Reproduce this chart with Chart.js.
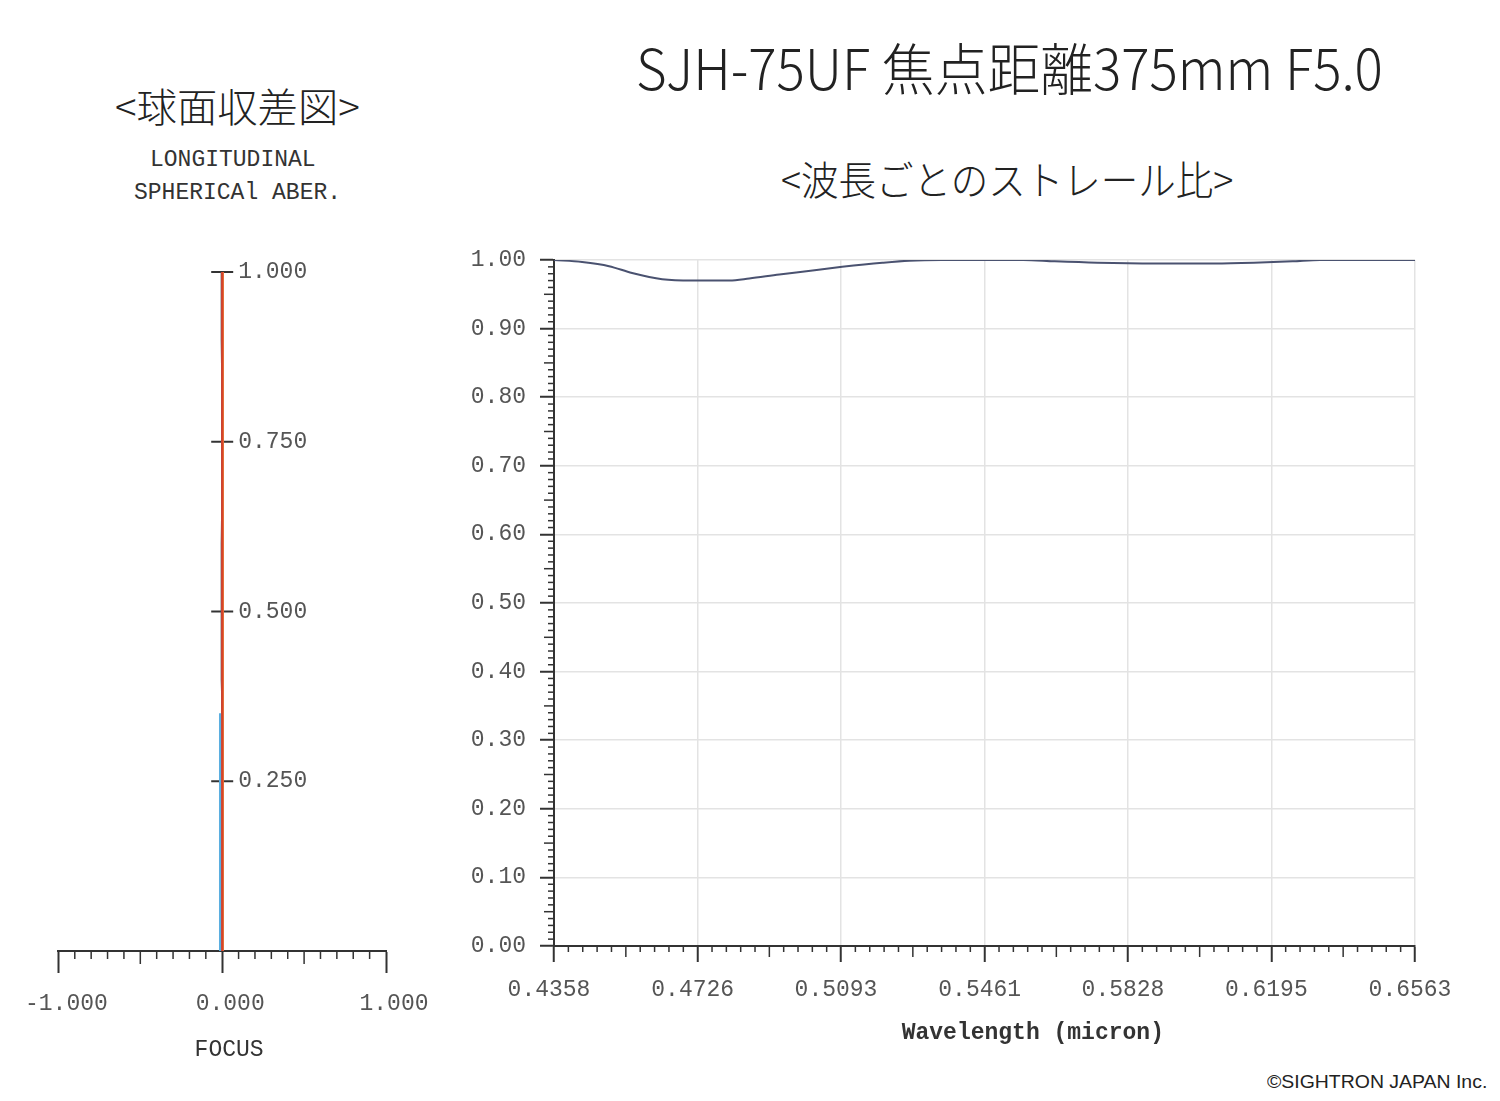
<!DOCTYPE html>
<html lang="ja">
<head>
<meta charset="utf-8">
<title>SJH-75UF 焦点距離375mm F5.0</title>
<script src="https://cdn.jsdelivr.net/npm/chart.js@4.4.1/dist/chart.umd.min.js"></script>
<style>
  html, body { margin: 0; padding: 0; background: #fff; }
  #page { position: relative; width: 1500px; height: 1101px; overflow: hidden; background: #fff; }
  .txt { position: absolute; white-space: nowrap; line-height: 1; color: #222; transform-origin: left top; }
  .jp { font-family: "Noto Sans CJK JP", sans-serif; font-weight: 300; }
  .mono { font-family: "Liberation Mono", "DejaVu Sans Mono", monospace; font-size: 23px; color: #333; }
  #title { left: 636px; top: 38px; font-size: 56px; }
  #subtitle { left: 781px; top: 158px; font-size: 40px; }
  #leftHead { left: 115px; top: 85px; font-size: 40px; }
  #long1 { left: 150px; top: 149px; }
  #long2 { left: 134px; top: 182px; }
  #copy { left: 1267px; top: 1072px; font-family: "Liberation Sans", Arial, sans-serif; font-size: 19px; color: #222; }
  #focusCanvas { position: absolute; left: 0; top: 240px; }
  #strehlCanvas { position: absolute; left: 440px; top: 230px; }
</style>
</head>
<body>
<div id="page">
  <div class="txt jp" id="title" data-w="747">SJH-75UF 焦点距離375mm F5.0</div>
  <div class="txt jp" id="leftHead" data-w="245">&lt;球面収差図&gt;</div>
  <div class="txt jp" id="subtitle" data-w="452">&lt;波長ごとのストレール比&gt;</div>
  <div class="txt mono" id="long1">LONGITUDINAL</div>
  <div class="txt mono" id="long2">SPHERICAl ABER.</div>
  <div class="txt" id="copy" data-w="220">©SIGHTRON JAPAN Inc.</div>
  <div id="focusCanvas"><canvas id="focus" width="440" height="840"></canvas></div>
  <div id="strehlCanvas"><canvas id="strehl" width="1060" height="830"></canvas></div>
</div>
<script>
// --- left plot: longitudinal spherical aberration (focus shift vs pupil height)
const pupilHeight = [0, 0.1, 0.2, 0.3, 0.35, 0.4, 0.5, 0.6, 0.7, 0.8, 0.9, 1.0];
const focusBlue   = [-0.012, -0.012, -0.012, -0.012, -0.012, null, null, null, null, null, null, null];
const focusGray   = [0.001, 0.001, 0.001, 0.001, 0.001, -0.005, -0.005, -0.005, 0.001, 0.001, -0.005, -0.005];
const focusYellow = [0.005, 0.005, 0.005, 0.005, 0.005, 0.006, 0.007, 0.007, 0.006, 0.005, 0.005, 0.005];
const focusOrange = [0.004, 0.004, 0.004, 0.004, 0.004, 0.004, 0.004, 0.004, 0.004, 0.004, 0.004, 0.004];
const focusRed    = [0.001, 0.001, 0.001, 0.001, 0.001, 0.001, 0.001, 0.001, 0.001, 0.001, 0.001, 0.001];
const focusTicks  = [-1, 0, 1];
const heightTicks = [0.25, 0.5, 0.75, 1.0];

// --- right plot: Strehl ratio per wavelength
const strehlWave  = [0.4358, 0.4430, 0.4499, 0.4558, 0.4635, 0.4712, 0.4807, 0.4858, 0.4935, 0.4994,
                     0.5096, 0.5199, 0.5268, 0.5350, 0.5560, 0.5640, 0.5750, 0.5900, 0.6050, 0.6150,
                     0.6250, 0.6320, 0.6563];
const strehlRatio = [1.000, 0.997, 0.991, 0.981, 0.972, 0.970, 0.970, 0.973, 0.979, 0.983,
                     0.990, 0.996, 0.999, 1.000, 1.000, 0.998, 0.996, 0.995, 0.995, 0.996,
                     0.998, 1.000, 1.000];
const waveTicks   = [0.4358, 0.4726, 0.5093, 0.5461, 0.5828, 0.6195, 0.6563];

const monoFont = { family: "'Liberation Mono', monospace", size: 23 };
const axisDark = '#333';

// squeeze the headings to the measured widths
document.querySelectorAll('[data-w]').forEach(el => {
  const s = Number(el.dataset.w) / el.offsetWidth;
  el.style.transform = 'scaleX(' + s + ')';
});

function line(ctx, x1, y1, x2, y2) {
  ctx.beginPath();
  ctx.moveTo(x1, y1);
  ctx.lineTo(x2, y2);
  ctx.stroke();
}

// centre axis, cross ticks, labels and minor ticks for the focus plot
const focusAxes = {
  id: 'focusAxes',
  beforeDatasetsDraw(chart) {
    const ctx = chart.ctx, xs = chart.scales.x, ys = chart.scales.y;
    const x0 = xs.getPixelForValue(0);
    const yb = chart.chartArea.bottom;
    ctx.save();
    ctx.strokeStyle = axisDark;
    ctx.lineWidth = 2;
    line(ctx, x0, ys.getPixelForValue(0), x0, ys.getPixelForValue(1));
    heightTicks.forEach(h => {
      const y = ys.getPixelForValue(h);
      line(ctx, x0 - 11, y, x0 + 11, y);
    });
    // minor ticks on the focus axis every 0.1
    ctx.lineWidth = 1.5;
    for (let k = -9; k <= 9; k++) {
      if (k === 0) continue;
      const x = xs.getPixelForValue(k / 10);
      line(ctx, x, yb, x, yb + (Math.abs(k) === 5 ? 13 : 8));
    }
    ctx.fillStyle = '#555';
    ctx.font = "23px 'Liberation Mono', monospace";
    ctx.textAlign = 'left';
    ctx.textBaseline = 'middle';
    heightTicks.forEach(h => {
      ctx.fillText(h.toFixed(3), x0 + 16, ys.getPixelForValue(h));
    });
    ctx.restore();
  }
};

function series(xs, color, width) {
  return {
    data: pupilHeight.map((h, i) => ({ x: xs[i], y: h })).filter(p => p.x !== null),
    borderColor: color,
    borderWidth: width,
    showLine: true,
    pointRadius: 0,
    fill: false
  };
}

new Chart(document.getElementById('focus'), {
  type: 'scatter',
  data: {
    datasets: [
      series(focusRed, '#d8432b', 2.5),
      series(focusOrange, '#f29a3c', 1.5),
      series(focusYellow, '#f4d85a', 1.5),
      series(focusBlue, '#5aaee0', 2.5),
      series(focusGray, '#555c66', 1.5)
    ]
  },
  options: {
    responsive: false,
    animation: false,
    layout: { padding: { left: 56, right: 54, top: 32, bottom: 0 } },
    plugins: { legend: { display: false }, tooltip: { enabled: false } },
    scales: {
      x: {
        type: 'linear', min: -1, max: 1,
        afterBuildTicks: s => { s.ticks = focusTicks.map(v => ({ value: v })); },
        afterFit: s => { s.height = 129; },
        ticks: { font: monoFont, color: '#555', padding: 17, labelOffset: 8,
                 maxRotation: 0, callback: v => v.toFixed(3) },
        grid: { drawOnChartArea: false, tickLength: 22, tickColor: axisDark, tickWidth: 2 },
        border: { color: axisDark, width: 2 },
        title: { display: true, text: ' FOCUS', font: monoFont, color: '#333',
                 padding: { top: 0, bottom: 16 } }
      },
      y: { type: 'linear', min: 0, max: 1, display: false }
    }
  },
  plugins: [focusAxes]
});

// minor ticks for the Strehl plot
const strehlMinor = {
  id: 'strehlMinor',
  afterDraw(chart) {
    const ctx = chart.ctx, xs = chart.scales.x, ys = chart.scales.y;
    const { left, bottom } = chart.chartArea;
    ctx.save();
    ctx.strokeStyle = axisDark;
    ctx.lineWidth = 1.5;
    for (let i = 0; i < waveTicks.length - 1; i++) {
      const a = waveTicks[i], b = waveTicks[i + 1];
      for (let k = 1; k < 10; k++) {
        const x = xs.getPixelForValue(a + (b - a) * k / 10);
        line(ctx, x, bottom, x, bottom + (k === 5 ? 11 : 6));
      }
    }
    for (let k = 1; k < 100; k++) {
      if (k % 10 === 0) continue;
      const y = ys.getPixelForValue(k / 100);
      line(ctx, left - (k % 5 === 0 ? 10 : 6), y, left, y);
    }
    ctx.restore();
  }
};

new Chart(document.getElementById('strehl'), {
  type: 'scatter',
  data: {
    datasets: [{
      data: strehlWave.map((w, i) => ({ x: w, y: strehlRatio[i] })),
      showLine: true,
      borderColor: '#4a5270',
      borderWidth: 2,
      pointRadius: 0,
      cubicInterpolationMode: 'monotone'
    }]
  },
  options: {
    responsive: false,
    animation: false,
    layout: { padding: { left: 0, right: 85, top: 30, bottom: 0 } },
    plugins: { legend: { display: false }, tooltip: { enabled: false } },
    scales: {
      x: {
        type: 'linear', min: waveTicks[0], max: waveTicks[waveTicks.length - 1],
        afterBuildTicks: s => { s.ticks = waveTicks.map(v => ({ value: v })); },
        afterFit: s => { s.height = 114; },
        ticks: { font: monoFont, color: '#555', padding: 14, labelOffset: -5,
                 maxRotation: 0, autoSkip: false, callback: v => v.toFixed(4) },
        grid: { color: '#e3e3e3', lineWidth: 1.5, tickLength: 16, tickColor: axisDark, tickWidth: 2 },
        border: { color: axisDark, width: 2 },
        title: { display: true, text: '       Wavelength (micron)',
                 font: { family: "'Liberation Mono', monospace", size: 23, weight: 'bold' },
                 color: '#333', padding: { top: 0, bottom: 13 } }
      },
      y: {
        type: 'linear', min: 0, max: 1,
        afterFit: s => { s.width = 114; },
        ticks: { stepSize: 0.1, font: monoFont, color: '#555', padding: 14,
                 callback: v => v.toFixed(2) },
        grid: { color: '#e3e3e3', lineWidth: 1.5, tickLength: 14, tickColor: axisDark, tickWidth: 2 },
        border: { color: axisDark, width: 2 }
      }
    }
  },
  plugins: [strehlMinor]
});
</script>
</body>
</html>
